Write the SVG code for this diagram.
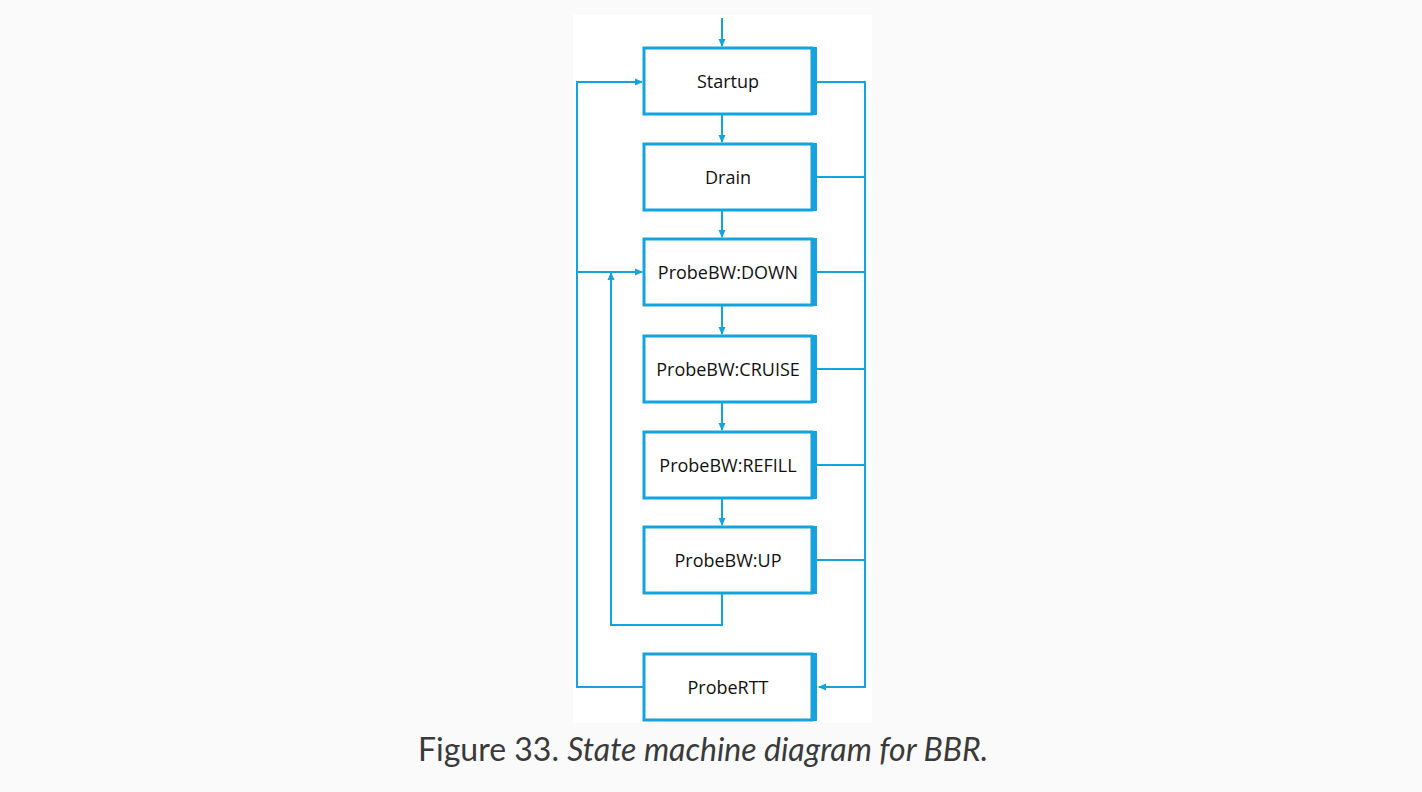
<svg xmlns="http://www.w3.org/2000/svg" width="1422" height="792" viewBox="0 0 1422 792">
<style>
.box{fill:#fff;stroke:#14a3dc;stroke-width:3}
.edge{fill:#14a3dc}
.lbl{font-family:"Open Sans","Liberation Sans",sans-serif;font-size:18px;fill:#111;text-anchor:middle}
.ln{fill:none;stroke:#14a3dc;stroke-width:2}
.cap{font-family:Lato,"Liberation Sans",sans-serif;font-size:32px;fill:#3a3a3a}
</style>
<defs>
<marker id="ah" markerWidth="8" markerHeight="8" refX="7" refY="4" orient="auto" markerUnits="userSpaceOnUse">
<path d="M0,0.5 L8,4 L0,7.5 z" fill="#14a3dc"/>
</marker>
</defs>
<rect width="1422" height="792" fill="#fafafa"/>
<rect x="573" y="15" width="299" height="708" fill="#fff"/>
<g id="connectors">
<path class="ln" d="M722,18 V46" marker-end="url(#ah)"/>
<path class="ln" d="M722,114 V142" marker-end="url(#ah)"/>
<path class="ln" d="M722,210 V237" marker-end="url(#ah)"/>
<path class="ln" d="M722,305 V334" marker-end="url(#ah)"/>
<path class="ln" d="M722,402 V430" marker-end="url(#ah)"/>
<path class="ln" d="M722,498 V525" marker-end="url(#ah)"/>
<path class="ln" d="M643,687 H577 V82 H642" marker-end="url(#ah)"/>
<path class="ln" d="M577,272 H642" marker-end="url(#ah)"/>
<path class="ln" d="M722,593 V625 H611 V273" marker-end="url(#ah)"/>
<path class="ln" d="M817,82 H865 V687 H819" marker-end="url(#ah)"/>
<path class="ln" d="M817,177 H865"/>
<path class="ln" d="M817,272 H865"/>
<path class="ln" d="M817,369 H865"/>
<path class="ln" d="M817,465 H865"/>
<path class="ln" d="M817,560 H865"/>
</g>
<g id="startup"><rect class="box" x="644" y="48" width="168" height="66"/><rect class="edge" x="811" y="47" width="6" height="68"/><text class="lbl" x="728" y="88">Startup</text></g>
<g id="drain"><rect class="box" x="644" y="144" width="168" height="66"/><rect class="edge" x="811" y="143" width="6" height="68"/><text class="lbl" x="728" y="184">Drain</text></g>
<g id="probebw-down"><rect class="box" x="644" y="239" width="168" height="66"/><rect class="edge" x="811" y="238" width="6" height="68"/><text class="lbl" x="728" y="279">ProbeBW:DOWN</text></g>
<g id="probebw-cruise"><rect class="box" x="644" y="336" width="168" height="66"/><rect class="edge" x="811" y="335" width="6" height="68"/><text class="lbl" x="728" y="376">ProbeBW:CRUISE</text></g>
<g id="probebw-refill"><rect class="box" x="644" y="432" width="168" height="66"/><rect class="edge" x="811" y="431" width="6" height="68"/><text class="lbl" x="728" y="472">ProbeBW:REFILL</text></g>
<g id="probebw-up"><rect class="box" x="644" y="527" width="168" height="66"/><rect class="edge" x="811" y="526" width="6" height="68"/><text class="lbl" x="728" y="567">ProbeBW:UP</text></g>
<g id="probertt"><rect class="box" x="644" y="654" width="168" height="66"/><rect class="edge" x="811" y="653" width="6" height="68"/><text class="lbl" x="728" y="694">ProbeRTT</text></g>
<text class="cap" x="418" y="761">Figure 33. <tspan font-style="italic">State machine diagram for BBR.</tspan></text>
</svg>
